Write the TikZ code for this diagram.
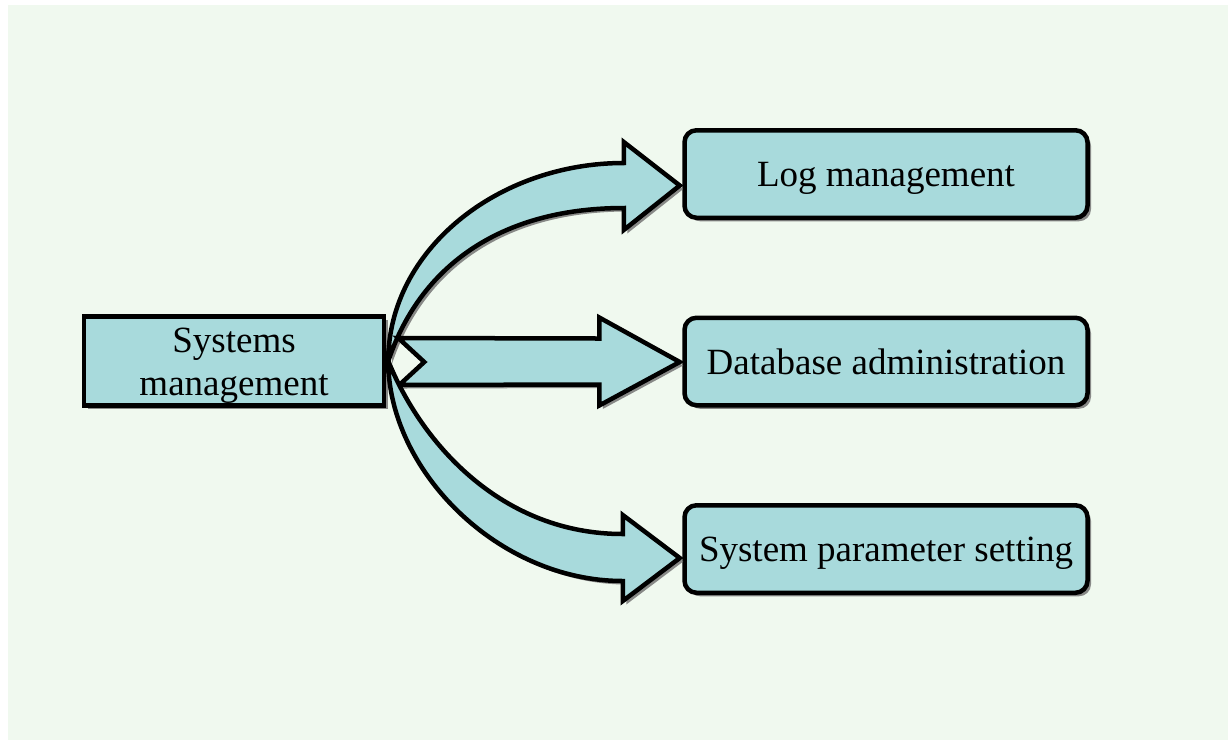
\documentclass[tikz,border=0pt]{standalone}
\usepackage{fontspec}
\setmainfont{Liberation Serif}
\usepackage{tikz}
\usetikzlibrary{calc,shadows}
\definecolor{bggreen}{RGB}{240,249,239}
\definecolor{boxteal}{RGB}{168,218,220}
\definecolor{shadowgray}{RGB}{110,110,110}

\begin{document}
\begin{tikzpicture}[x=1pt, y=-1pt,
  boxshadow/.style={drop shadow={shadow xshift=3.5pt, shadow yshift=-3.5pt, fill=shadowgray, opacity=.8}},
  rootbox/.style={draw=black, line width=4.5pt, fill=boxteal, boxshadow, inner sep=0pt,
    minimum width=300pt, minimum height=89pt, align=center,
    font=\fontsize{37}{43}\selectfont, text height=68pt, text depth=0pt},
  leafbox/.style={draw=black, line width=4.5pt, fill=boxteal, boxshadow, rounded corners=12pt, inner sep=0pt,
    minimum width=403pt, minimum height=87.5pt,
    font=\fontsize{37}{43}\selectfont, text height=25pt, text depth=0pt},
  blockarrow/.style={draw=black, line width=4.5pt, fill=boxteal, boxshadow, line join=miter, miter limit=20}]
% Canvas
\fill[white] (0,0) rectangle (1228,740);
\fill[bggreen] (8,5) rectangle (1228,740);
\useasboundingbox (0,0) rectangle (1228,740);
% Root box
\node[rootbox] (sys) at (234,361) {Systems\\management};
% Leaf boxes
\foreach \nm/\yy/\txt in {log/174/Log management, db/361.5/Database administration, param/549/System parameter setting} {
  \node[leafbox] (\nm) at (886,\yy) {\txt};
}
% Tail of the curved arrows
\coordinate (tail) at ($(sys.east)+(2,0)$);
% Curved arrow up
\draw[blockarrow] (tail) .. controls ($(tail)+(0,-111)$) and ($(log.west)+(-184.5,-11)$) .. ($(log.west)+(-58.5,-11)$)
  -- ($(log.west)+(-58.5,-32)$) -- ($(log.west)+(-2.5,11.5)$) -- ($(log.west)+(-58.5,56)$) -- ($(log.west)+(-58.5,34)$)
  .. controls ($(log.west)+(-174.5,34)$) and ($(tail)+(34,-101)$) .. (tail) -- cycle;
% Straight arrow
\draw[blockarrow] ($(sys.east)+(12,-23)$) -- ($(db.west)+(-83,-23)$) -- ($(db.west)+(-83,-44)$) -- ($(db.west)+(-2.5,0.5)$)
  -- ($(db.west)+(-83,44)$) -- ($(db.west)+(-83,23)$) -- ($(sys.east)+(13,24)$) -- ($(sys.east)+(38,1)$) -- cycle;
% Curved arrow down
\draw[blockarrow] (tail) .. controls ($(tail)+(0,109)$) and ($(param.west)+(-184.5,32)$) .. ($(param.west)+(-59.5,32)$)
  -- ($(param.west)+(-59.5,52)$) -- ($(param.west)+(-2.5,9)$) -- ($(param.west)+(-59.5,-34)$) -- ($(param.west)+(-59.5,-15)$)
  .. controls ($(param.west)+(-179.5,-15)$) and ($(tail)+(34,84)$) .. (tail) -- cycle;
\end{tikzpicture}
\end{document}
